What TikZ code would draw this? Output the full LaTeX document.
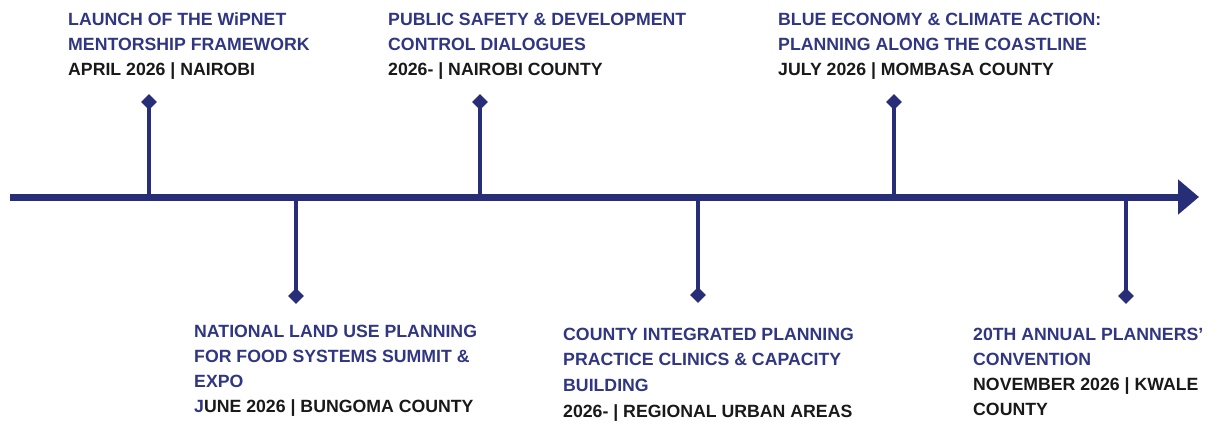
\documentclass[tikz,border=0pt]{standalone}
\usepackage{fontspec}
\setmainfont{Liberation Sans}
\usetikzlibrary{arrows.meta,shapes.geometric}
\definecolor{navy}{RGB}{40,45,120}
\definecolor{txtblue}{RGB}{48,54,130}
\definecolor{txtblack}{RGB}{25,25,25}
\begin{document}
\begin{tikzpicture}[x=1pt,y=-1pt,
  lbl/.style={anchor=north west, inner sep=0pt, align=left, font=\fontsize{17.7}{25}\selectfont\bfseries, text=txtblue},
  dia/.style={diamond, fill=navy, inner sep=0pt, minimum size=16pt},
  stem/.style={draw=navy, line width=3.1pt},
  axis/.style={draw=navy, line width=7pt, -{Triangle[length=21pt,width=34pt]}}]
\useasboundingbox (0,0) rectangle (1216,423);
% axis
\coordinate (s) at (10,197);
\coordinate (e) at (1199,197);
\draw[axis] (s) -- (e);
% stems and diamonds
\node[dia] (d1) at (149,102) {};
\node[dia] (d2) at (296,296) {};
\node[dia] (d3) at (480,102) {};
\node[dia] (d4) at (698,295) {};
\node[dia] (d5) at (894,102) {};
\node[dia] (d6) at (1126,296) {};
\coordinate (t1) at (149,197);
\coordinate (t2) at (296,197);
\coordinate (t3) at (480,197);
\coordinate (t4) at (698,197);
\coordinate (t5) at (894,197);
\coordinate (t6) at (1126,197);
\foreach \i in {1,...,6} \draw[stem] (d\i.center) -- (t\i);
% labels
\node[lbl] (L1) at (68,12.5) {LAUNCH OF THE WiPNET\\MENTORSHIP FRAMEWORK\\\textcolor{txtblack}{APRIL 2026 | NAIROBI}};
\node[lbl] (L3) at (388,12.5) {PUBLIC SAFETY \& DEVELOPMENT\\CONTROL DIALOGUES\\\textcolor{txtblack}{2026- | NAIROBI COUNTY}};
\node[lbl] (L5) at (778,12.5) {BLUE ECONOMY \& CLIMATE ACTION:\\PLANNING ALONG THE COASTLINE\\\textcolor{txtblack}{JULY 2026 | MOMBASA COUNTY}};
\node[lbl] (L2) at (194,324.5) {NATIONAL LAND USE PLANNING\\FOR FOOD SYSTEMS SUMMIT \&\\EXPO\\J\textcolor{txtblack}{UNE 2026 | BUNGOMA COUNTY}};
\node[lbl, font=\fontsize{17.7}{25.8}\selectfont\bfseries] (L4) at (563,327.5) {COUNTY INTEGRATED PLANNING\\PRACTICE CLINICS \& CAPACITY\\BUILDING\\\textcolor{txtblack}{2026- | REGIONAL URBAN AREAS}};
\node[lbl, font=\fontsize{17.7}{25.3}\selectfont\bfseries] (L6) at (973,327.5) {20TH ANNUAL PLANNERS’\\CONVENTION\\\textcolor{txtblack}{NOVEMBER 2026 | KWALE}\\\textcolor{txtblack}{COUNTY}};
\end{tikzpicture}
\end{document}
